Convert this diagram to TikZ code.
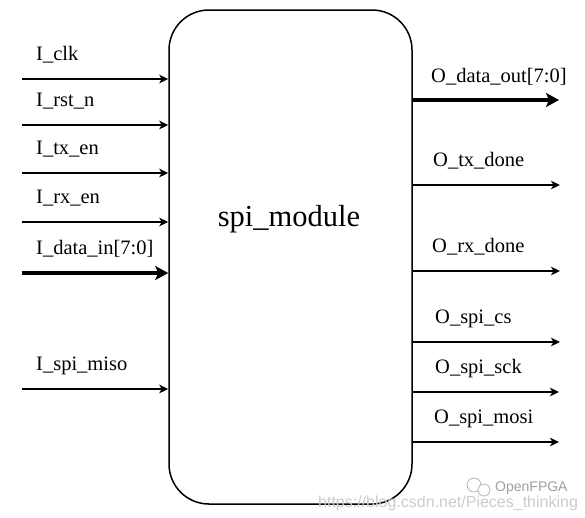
\documentclass[tikz,border=0pt]{standalone}
\usepackage{fontspec}
\setmainfont{Liberation Serif}
\newfontfamily\wmfont{Liberation Sans}
\usetikzlibrary{arrows.meta}
\begin{document}
\begin{tikzpicture}[x=1pt,y=-1pt,
  sig/.style={line width=1.6pt,-{Stealth[length=9pt,width=8.5pt,inset=2.5pt]}},
  bus/.style={line width=4.8pt,-{Stealth[length=13pt,width=14pt,inset=3pt]}},
  lbl/.style={anchor=base west,inner sep=0pt,font=\fontsize{20.5}{22}\selectfont},
  modbox/.style={draw,line width=1.5pt,rounded corners=40pt,minimum width=243pt,minimum height=494pt,inner sep=0pt},
  wm/.style={anchor=base west,inner sep=0pt,text=gray!40,font=\wmfont\fontsize{16}{18}\selectfont},
  wm2/.style={anchor=base west,inner sep=0pt,text=gray!75,font=\wmfont\fontsize{14}{16}\selectfont}]
\useasboundingbox (0,0) rectangle (585,517);
\node[modbox] (m) at (290.5,257) {};
\node[inner sep=0pt,anchor=base,font=\fontsize{30.5}{32}\selectfont] (title) at (289,226) {spi\_module};
% inputs
\coordinate (iclk) at (22,79);
\coordinate (irst) at (22,125);
\coordinate (itx) at (22,173);
\coordinate (irx) at (22,222);
\coordinate (idat) at (22,273);
\coordinate (imiso) at (22,389);
\draw[sig] (iclk) -- (iclk -| m.west);
\draw[sig] (irst) -- (irst -| m.west);
\draw[sig] (itx) -- (itx -| m.west);
\draw[sig] (irx) -- (irx -| m.west);
\draw[bus] (idat) -- (idat -| m.west);
\draw[sig] (imiso) -- (imiso -| m.west);
\node[lbl] (liclk) at (36,60) {I\_clk};
\node[lbl] (lirst) at (36,106) {I\_rst\_n};
\node[lbl] (litx) at (36,154) {I\_tx\_en};
\node[lbl] (lirx) at (36,203) {I\_rx\_en};
\node[lbl] (lidat) at (36,254) {I\_data\_in[7:0]};
\node[lbl] (limiso) at (36,370) {I\_spi\_miso};
% outputs
\coordinate (odat) at (559,100);
\coordinate (otx) at (560,185);
\coordinate (orx) at (560,271);
\coordinate (ocs) at (560,342);
\coordinate (osck) at (559,392);
\coordinate (omosi) at (559,442);
\draw[bus] (odat -| m.east) -- (odat);
\draw[sig] (otx -| m.east) -- (otx);
\draw[sig] (orx -| m.east) -- (orx);
\draw[sig] (ocs -| m.east) -- (ocs);
\draw[sig] (osck -| m.east) -- (osck);
\draw[sig] (omosi -| m.east) -- (omosi);
\node[lbl] (lodat) at (431,82) {O\_data\_out[7:0]};
\node[lbl] (lotx) at (433,166) {O\_tx\_done};
\node[lbl] (lorx) at (432,252) {O\_rx\_done};
\node[lbl] (locs) at (435,323) {O\_spi\_cs};
\node[lbl] (losck) at (435,373) {O\_spi\_sck};
\node[lbl] (lomosi) at (434,423) {O\_spi\_mosi};
% watermark
\node[wm] (wmurl) at (318,507) {https://blog.csdn.net/Pieces\_thinking};
\draw[gray!60,line width=0.8pt,fill=white] (474,485) circle (7pt);
\draw[gray!60,line width=0.8pt,fill=white] (484,490) circle (6pt);
\node[wm2] (wmname) at (495,491) {OpenFPGA};
\end{tikzpicture}
\end{document}
